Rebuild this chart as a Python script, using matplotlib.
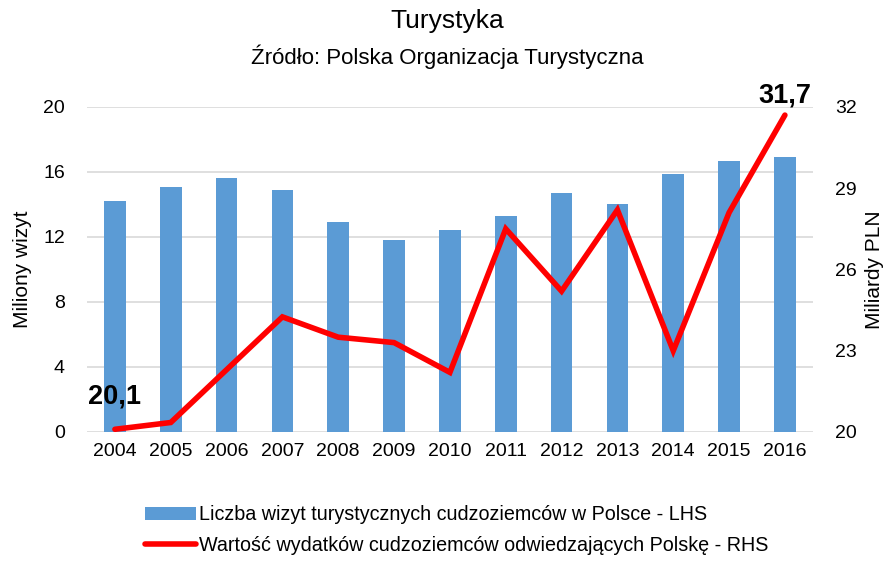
import matplotlib
matplotlib.use("Agg")
import matplotlib.pyplot as plt
from matplotlib import font_manager as fm

years = ["2004", "2005", "2006", "2007", "2008", "2009", "2010",
         "2011", "2012", "2013", "2014", "2015", "2016"]
visits = [14.2, 15.1, 15.6, 14.9, 12.9, 11.8, 12.45, 13.3, 14.7, 14.0, 15.9, 16.7, 16.9]
spending = [20.1, 20.35, 22.3, 24.25, 23.5, 23.3, 22.2, 27.5, 25.2, 28.2, 23.0, 28.1, 31.7]
left_ticks = [0, 4, 8, 12, 16, 20]
right_ticks = [20, 23, 26, 29, 32]
bar_label = "Liczba wizyt turystycznych cudzoziemców w Polsce - LHS"
line_label = "Wartość wydatków cudzoziemców odwiedzających Polskę - RHS"

names = {f.name for f in fm.fontManager.ttflist}
fam = ["Liberation Sans Narrow", "DejaVu Sans"] if "Liberation Sans Narrow" in names else ["Liberation Sans", "DejaVu Sans"]
plt.rcParams["font.family"] = fam

fig = plt.figure(figsize=(8.95, 5.63), dpi=100)
ax = fig.add_axes([0.0972, 0.2327, 0.811, 0.5773])
ax2 = ax.twinx()

x = list(range(len(years)))
bars = ax.bar(x, visits, width=0.39, color="#5B9BD5", zorder=2, label=bar_label)
ax.set_ylim(0, 20)
ax.set_yticks(left_ticks)
ax.set_xlim(-0.5, len(years) - 0.5)
ax.set_xticks(x)
ax.set_xticklabels(years)
ax.grid(axis="y", color="#d9d9d9", linewidth=1.2, zorder=0)
ax.set_axisbelow(True)

line, = ax2.plot(x, spending, color="#FF0000", linewidth=4.0, solid_capstyle="round",
                 solid_joinstyle="miter", label=line_label, zorder=3)
ax2.set_ylim(20, 32)
ax2.set_yticks(right_ticks)

for a in (ax, ax2):
    for s in a.spines.values():
        s.set_visible(False)
    a.tick_params(length=0, labelsize=14, colors="#000000")
ax.tick_params(axis="x", pad=8)
ax.tick_params(axis="y", pad=16)
ax2.tick_params(axis="y", pad=16)

ax.set_ylabel("Miliony wizyt", fontsize=15, labelpad=8)
ax2.set_ylabel("Miliardy PLN", fontsize=15, labelpad=6)

ax2.annotate("20,1", (x[0], spending[0]), xytext=(0, 14), textcoords="offset points",
             ha="center", va="bottom", fontsize=19.5, fontweight="bold")
ax2.annotate("31,7", (x[-1], spending[-1]), xytext=(0, 5), textcoords="offset points",
             ha="center", va="bottom", fontsize=19.5, fontweight="bold")

fig.text(0.5, 0.962, "Turystyka", ha="center", va="center", fontsize=19)
fig.text(0.5, 0.899, "Źródło: Polska Organizacja Turystyczna", ha="center", va="center", fontsize=16)

leg = fig.legend([bars, line], [bar_label, line_label], loc="center",
                 bbox_to_anchor=(0.51, 0.058), ncol=1, frameon=False, fontsize=14.2,
                 handlelength=2.6, handletextpad=0.15, labelspacing=0.6)

fig.savefig("out.png", dpi=100)
